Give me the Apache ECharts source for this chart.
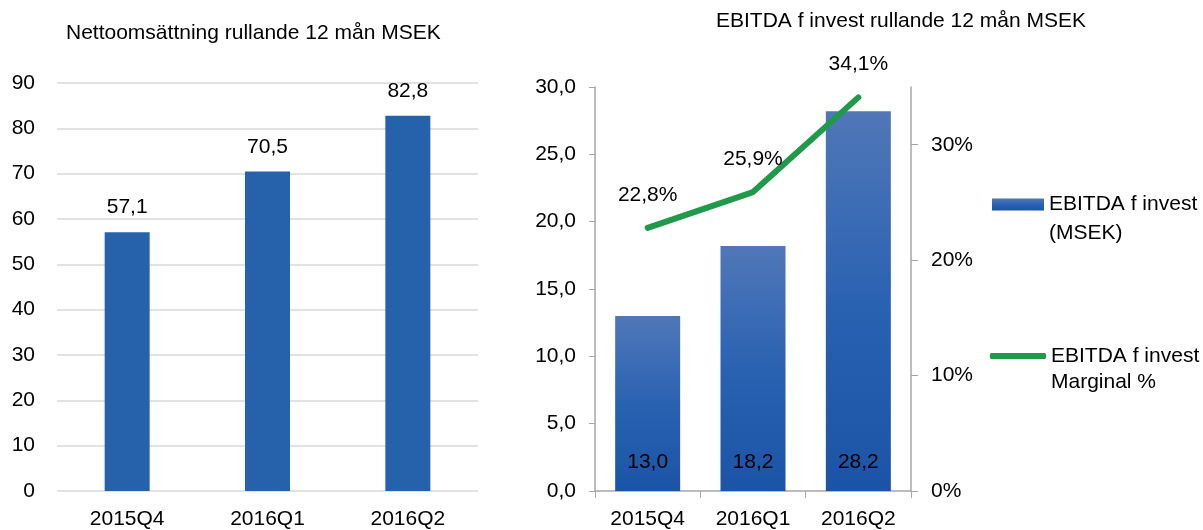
<!DOCTYPE html>
<html>
<head>
<meta charset="utf-8">
<script src="https://cdn.jsdelivr.net/npm/echarts@6/dist/echarts.min.js"></script>
<style>
  html, body { margin: 0; padding: 0; background: #fff; }
  #main { width: 1203px; height: 530px; }
</style>
</head>
<body>
<div id="main"></div>
<script>
// data
var kvartal = ['2015Q4', '2016Q1', '2016Q2'];
var nettoomsattning = [57.1, 70.5, 82.8];
var ebitda = [13.0, 18.2, 28.2];
var marginal = [22.8, 25.9, 34.1];
var pctTicks = [0, 10, 20, 30];

var font = "'Liberation Sans', Arial, Helvetica, sans-serif";
var fs = 21;
function komma(v) { return v.toFixed(1).replace('.', ','); }

var dom = document.getElementById('main');
var myChart = echarts.init(dom);

var barGradient = new echarts.graphic.LinearGradient(0, 0, 0, 1, [
    { offset: 0, color: '#5077b8' },
    { offset: 0.5, color: '#2a62b2' },
    { offset: 1, color: '#1b53a6' }
]);

// legend text: blank first line so the first real line sits level with the icon
function legendText(name) { return ' \n' + name; }

var option = {
    animation: false,
    textStyle: { fontFamily: font, color: '#000' },
    title: [
        { text: 'Nettoomsättning rullande 12 mån MSEK', left: 66, top: 23, padding: 0,
          textStyle: { fontFamily: font, fontSize: fs, fontWeight: 'normal', color: '#000' } },
        { text: 'EBITDA f invest rullande 12 mån MSEK', left: 716, top: 11, padding: 0,
          textStyle: { fontFamily: font, fontSize: fs, fontWeight: 'normal', color: '#000' } }
    ],
    legend: [
        {
            data: [{ name: 'EBITDA f invest\n(MSEK)', icon: 'rect' }],
            orient: 'vertical', left: 992, top: 161, padding: 0,
            itemWidth: 52, itemHeight: 12, formatter: legendText,
            textStyle: { fontFamily: font, fontSize: fs, color: '#000', lineHeight: 29 }
        },
        {
            data: [{ name: 'EBITDA f invest\nMarginal %', icon: 'roundRect' }],
            orient: 'vertical', left: 990, top: 317, padding: 0,
            itemWidth: 56, itemHeight: 6, formatter: legendText,
            itemStyle: { color: '#1f9a4b' },
            textStyle: { fontFamily: font, fontSize: fs, color: '#000', lineHeight: 26 }
        }
    ],
    grid: [
        { left: 57, right: 725, top: 83, bottom: 37 },
        { left: 595, right: 292, top: 87, bottom: 38 }
    ],
    xAxis: [
        {
            gridIndex: 0, type: 'category', data: kvartal,
            axisLine: { show: false }, axisTick: { show: false },
            axisLabel: { fontSize: fs, color: '#000', margin: 18, fontFamily: font }
        },
        {
            gridIndex: 1, type: 'category', data: kvartal,
            axisLine: { lineStyle: { color: '#a6a6a6', width: 1.5 } },
            axisTick: { show: true, length: 7, lineStyle: { color: '#a6a6a6' } },
            axisLabel: { fontSize: fs, color: '#000', margin: 18, fontFamily: font }
        }
    ],
    yAxis: [
        {
            gridIndex: 0, type: 'value', min: 0, max: 90, interval: 10,
            axisLine: { show: false }, axisTick: { show: false },
            splitLine: { lineStyle: { color: '#d9d9d9', width: 1.5 } },
            axisLabel: { fontSize: fs, color: '#000', margin: 22, fontFamily: font }
        },
        {
            gridIndex: 1, type: 'value', min: 0, max: 30, interval: 5,
            axisLine: { show: true, lineStyle: { color: '#a6a6a6', width: 1.5 } },
            axisTick: { show: true, length: 6, lineStyle: { color: '#a6a6a6' } },
            splitLine: { show: false },
            axisLabel: { fontSize: fs, color: '#000', margin: 19, fontFamily: font,
                formatter: function (v) { return komma(v); } }
        },
        {
            gridIndex: 1, type: 'value', min: 0, max: 35, position: 'right',
            axisLine: { show: true, lineStyle: { color: '#a6a6a6', width: 1.5 } },
            axisTick: { show: true, length: 7, lineStyle: { color: '#a6a6a6' }, customValues: pctTicks },
            splitLine: { show: false },
            axisLabel: { fontSize: fs, color: '#000', margin: 20, fontFamily: font,
                customValues: pctTicks, formatter: '{value}%' }
        }
    ],
    series: [
        {
            name: 'Nettoomsättning', type: 'bar', xAxisIndex: 0, yAxisIndex: 0,
            data: nettoomsattning, barWidth: 45,
            itemStyle: { color: '#2662ac' },
            label: { show: true, position: 'top', distance: 14, fontSize: fs, color: '#000',
                fontFamily: font, formatter: function (p) { return komma(p.value); } }
        },
        {
            name: 'EBITDA f invest\n(MSEK)', type: 'bar', xAxisIndex: 1, yAxisIndex: 1,
            data: ebitda, barWidth: 65,
            itemStyle: { color: barGradient },
            label: { show: true, position: 'insideBottom', distance: 18, fontSize: fs, color: '#000',
                fontFamily: font, formatter: function (p) { return komma(p.value); } }
        },
        {
            name: 'EBITDA f invest\nMarginal %', type: 'line', xAxisIndex: 1, yAxisIndex: 2,
            data: marginal, symbol: 'circle', symbolSize: 1, showSymbol: true,
            lineStyle: { color: '#1f9a4b', width: 6, cap: 'round' },
            itemStyle: { color: '#1f9a4b' },
            label: { show: true, position: 'top', distance: 22, fontSize: fs, color: '#000',
                fontFamily: font, formatter: function (p) { return komma(p.value) + '%'; } }
        }
    ]
};

myChart.setOption(option);
</script>
</body>
</html>
